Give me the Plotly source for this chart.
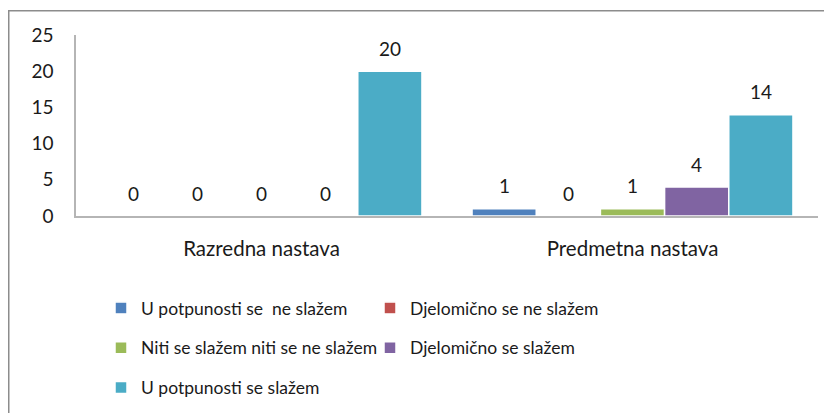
import plotly.graph_objects as go

categories = ["Razredna nastava", "Predmetna nastava"]
series_names = [
    "U potpunosti se  ne slažem",
    "Djelomično se ne slažem",
    "Niti se slažem niti se ne slažem",
    "Djelomično se slažem",
    "U potpunosti se slažem",
]
series_values = [
    [0, 1],
    [0, 0],
    [0, 1],
    [0, 4],
    [20, 14],
]
colors = ["#4F81BD", "#C0504D", "#9BBB59", "#8064A2", "#4BACC6"]
y_ticks = [0, 5, 10, 15, 20, 25]

FONT = "Lato"
TXT = "#1a1a1a"
W, H = 832, 413
OFF = 8  # page body margin offset
ML, MR, MT, MB = 76 - OFF, 22, 35 - OFF, 413 - (216 - OFF)
pw = W - ML - MR
ph = H - MT - MB
bargap = 0.135
bar_px = pw / len(categories) * (1 - bargap) / len(series_names)

legend_cols = [0, 1, 0, 1, 0]

fig = go.Figure()
for i, (name, vals, col) in enumerate(zip(series_names, series_values, colors)):
    fig.add_trace(go.Bar(
        x=categories, y=vals, name=name,
        marker=dict(color=col, line=dict(color="white", width=1.5)),
        legend="legend" if legend_cols[i] == 0 else "legend2",
        legendgroup=f"g{i}",
    ))

annotations = []
for i, vals in enumerate(series_values):
    for c, v in enumerate(vals):
        annotations.append(dict(
            x=categories[c], y=v, xref="x", yref="y",
            text=str(v), showarrow=False,
            xshift=(i - 2) * bar_px, yshift=23, yanchor="middle",
            font=dict(family=FONT, size=19, color=TXT),
        ))

def px_x(p):
    return (p - OFF - ML) / pw

def px_y(p):
    return (H - MB - (p - OFF)) / ph

shapes = [dict(
    type="rect", xref="paper", yref="paper",
    x0=px_x(8.75), x1=px_x(839), y0=px_y(430), y1=px_y(10.75),
    line=dict(color="#8c8c8c", width=1.5), fillcolor="rgba(0,0,0,0)",
    layer="below",
)]

legend_common = dict(
    xref="container", yref="container",
    xanchor="left", yanchor="top",
    orientation="v", tracegroupgap=14, itemwidth=30,
    font=dict(family=FONT, size=17.5, color=TXT),
    bgcolor="rgba(0,0,0,0)",
)

fig.update_layout(
    width=W, height=H,
    margin=dict(l=ML, r=MR, t=MT, b=MB, autoexpand=False),
    paper_bgcolor="white", plot_bgcolor="white",
    barmode="group", bargap=bargap, bargroupgap=0,
    font=dict(family=FONT, size=18, color=TXT),
    annotations=annotations,
    shapes=shapes,
    legend=dict(x=93 / W, y=1 - 282 / H, **legend_common),
    legend2=dict(x=362 / W, y=1 - 282 / H, **legend_common),
    xaxis=dict(
        showline=True, linecolor="#b5b5b5", linewidth=1.5,
        ticks="", ticklabelstandoff=14, showgrid=False,
        tickfont=dict(family=FONT, size=20.5, color=TXT),
    ),
    yaxis=dict(
        range=[0, 25], tickvals=y_ticks, showline=True,
        linecolor="#b5b5b5", linewidth=1.5, showgrid=False,
        ticks="", ticklabelstandoff=17, zeroline=False,
        tickfont=dict(family=FONT, size=19, color=TXT),
    ),
)

fig.write_html("out.html")
